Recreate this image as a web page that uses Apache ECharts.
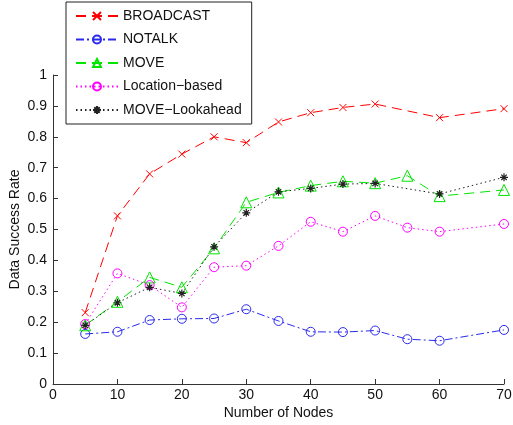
<!DOCTYPE html>
<html>
<head>
<meta charset="utf-8">
<script src="https://cdn.jsdelivr.net/npm/echarts@6/dist/echarts.min.js"></script>
<style>html,body{margin:0;padding:0;background:#fff}#c{width:513px;height:425px}</style>
</head>
<body>
<div id="c"></div>
<script>
var nodes = [5, 10, 15, 20, 25, 30, 35, 40, 45, 50, 55, 60, 70];
var broadcast = [0.231, 0.544, 0.680, 0.744, 0.800, 0.781, 0.848, 0.878, 0.895, 0.906, null, 0.862, 0.891];
var notalk = [0.162, 0.169, 0.207, 0.211, 0.212, 0.242, 0.204, 0.169, 0.168, 0.173, 0.145, 0.140, 0.175];
var move = [0.190, 0.266, 0.345, 0.313, 0.439, 0.588, 0.620, 0.642, 0.656, 0.650, 0.674, 0.608, 0.628];
var locationBased = [0.194, 0.358, 0.320, 0.248, 0.378, 0.383, 0.447, 0.525, 0.493, 0.544, 0.506, 0.493, 0.518];
var lookahead = [0.190, 0.263, 0.313, 0.293, 0.444, 0.554, 0.622, 0.633, 0.647, 0.649, null, 0.615, 0.669];
var seriesNames = ['BROADCAST', 'NOTALK', 'MOVE', 'Location\u2212based', 'MOVE\u2212Lookahead'];
var xTicks = [0, 10, 20, 30, 40, 50, 60, 70];
var yTicks = [0, 0.1, 0.2, 0.3, 0.4, 0.5, 0.6, 0.7, 0.8, 0.9, 1];

function pairs(vals) {
  var out = [];
  for (var i = 0; i < nodes.length; i++) out.push([nodes[i], vals[i]]);
  return out;
}
var FONT = 'Liberation Sans, Arial, Helvetica, sans-serif';
var X_SYM = 'path://M0 0L10 10M10 0L0 10';
var AST_SYM = 'path://M5 0L5 10M0 5L10 5M1.6 1.6L8.4 8.4M8.4 1.6L1.6 8.4';

function mk(name, vals, color, dash, symbol, size, bw) {
  return {
    name: name, type: 'line', data: pairs(vals), connectNulls: true,
    symbol: symbol, symbolSize: size, showAllSymbol: true,
    lineStyle: { color: color, width: 1, type: dash },
    itemStyle: { color: 'transparent', borderColor: color, borderWidth: bw },
    emphasis: { disabled: true }, animation: false
  };
}

var chart = echarts.init(document.getElementById('c'));
chart.setOption({
  backgroundColor: '#fff',
  animation: false,
  grid: { left: 53, right: 9, top: 75, bottom: 41, containLabel: false, outerBoundsMode: 'none' },
  legend: {
    left: 66, top: 2, orient: 'vertical',
    padding: [7, 10, 7, 9],
    itemWidth: 42, itemHeight: 10, itemGap: 9.5,
    backgroundColor: '#fff', borderColor: '#222', borderWidth: 1,
    textStyle: { fontFamily: FONT, fontSize: 14, color: '#111', lineHeight: 14, padding: [0, 0, 0, 0] },
    data: seriesNames
  },
  xAxis: {
    type: 'value', min: 0, max: 70, interval: 10,
    name: 'Number of Nodes', nameLocation: 'middle', nameGap: 22, nameMoveOverlap: false,
    nameTextStyle: { fontFamily: FONT, fontSize: 14, color: '#111' },
    axisLine: { lineStyle: { color: '#333', width: 1 } },
    axisTick: { inside: true, length: 5, lineStyle: { color: '#333' } },
    axisLabel: { fontFamily: FONT, fontSize: 14, color: '#111', margin: 4,
      formatter: function (v) { return xTicks.indexOf(v) >= 0 ? String(v) : ''; } },
    splitLine: { show: false }
  },
  yAxis: {
    type: 'value', min: 0, max: 1, interval: 0.1,
    name: 'Data Success Rate', nameLocation: 'middle', nameGap: 31, nameMoveOverlap: false,
    nameTextStyle: { fontFamily: FONT, fontSize: 14, color: '#111' },
    axisLine: { show: true, lineStyle: { color: '#333', width: 1 } },
    axisTick: { show: true, inside: true, length: 5, lineStyle: { color: '#333' } },
    axisLabel: { fontFamily: FONT, fontSize: 14, color: '#111', margin: 6,
      formatter: function (v) {
        var r = Math.round(v * 10) / 10;
        return yTicks.indexOf(r) >= 0 ? String(r) : '';
      } },
    splitLine: { show: false }
  },
  series: [
    mk(seriesNames[0], broadcast, '#ff0000', [10, 6], X_SYM, 7, 1),
    mk(seriesNames[1], notalk, '#2a2aee', [8, 3, 2, 3], 'circle', 9, 1),
    mk(seriesNames[2], move, '#00e600', [10, 6], 'triangle', 11, 1),
    mk(seriesNames[3], locationBased, '#ff00ff', [1.5, 3], 'circle', 9, 1),
    mk(seriesNames[4], lookahead, '#222222', [1.5, 3], AST_SYM, 8, 1.2)
  ]
});
</script>
</body>
</html>
